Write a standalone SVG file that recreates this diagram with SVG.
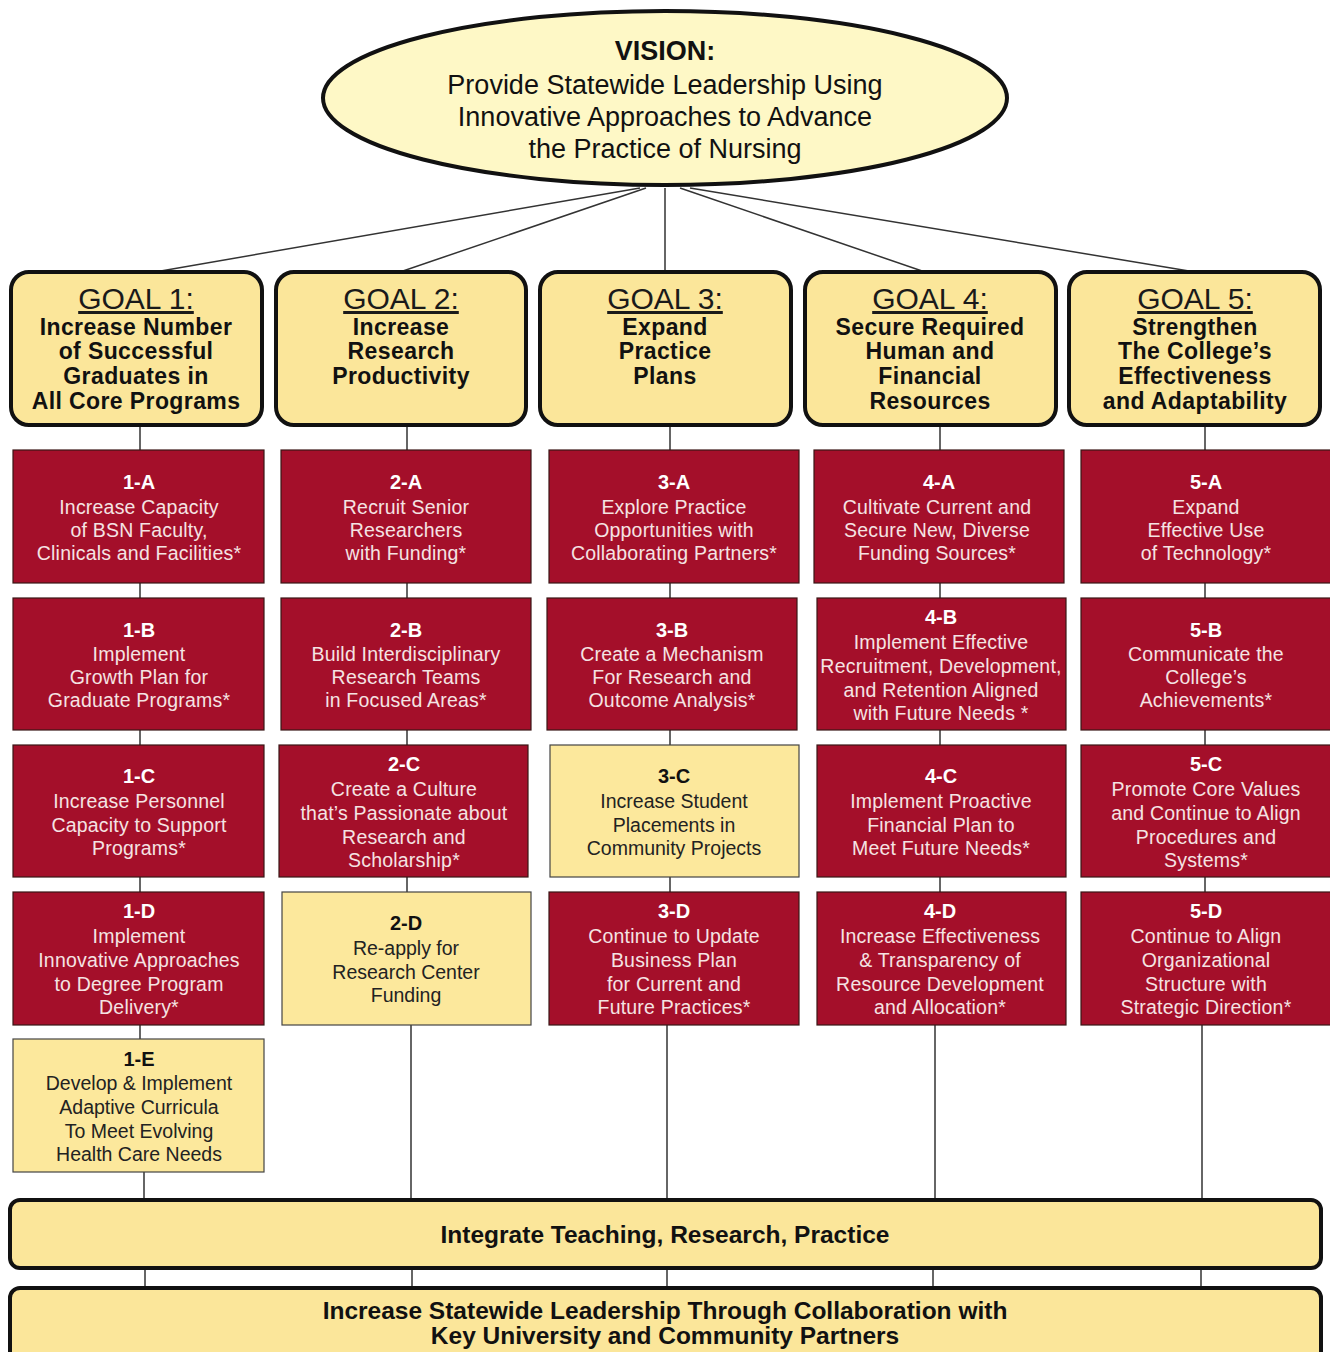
<svg xmlns="http://www.w3.org/2000/svg" width="1330" height="1352" viewBox="0 0 1330 1352">
<style>
text{font-family:"Liberation Sans",Arial,sans-serif;text-anchor:middle}
.goal{fill:#FBE69A;stroke:#111;stroke-width:4}
.red{fill:#A40F2A;stroke:#3a1616;stroke-width:1.2}
.yel{fill:#FCE89C;stroke:#444;stroke-width:1.2}
.gt{font-size:30px;fill:#1a1a1a;text-decoration:underline}
.gs{font-size:23px;font-weight:bold;fill:#111;letter-spacing:0.4px}
.rt{font-size:20px;font-weight:bold;fill:#fff}
.rb{font-size:19.5px;fill:#F5E3E3;letter-spacing:0.2px}
.yt{font-size:20px;font-weight:bold;fill:#111}
.yb{font-size:19.5px;fill:#222}
.bar{fill:#FBE69A;stroke:#111;stroke-width:4}
.bt{font-size:24.5px;font-weight:bold;fill:#111}
.vt{font-size:27px;fill:#111}
#connectors line{stroke:#333;stroke-width:1.5}
</style>
<g id="connectors">
<line x1="640" y1="188" x2="155" y2="272"/>
<line x1="646" y1="188" x2="400" y2="272"/>
<line x1="665" y1="188" x2="665" y2="272"/>
<line x1="680" y1="188" x2="925" y2="272"/>
<line x1="690" y1="188" x2="1195" y2="272"/>
<line x1="140" y1="425" x2="140" y2="1039"/>
<line x1="144" y1="1172" x2="144" y2="1200"/>
<line x1="407" y1="425" x2="407" y2="892"/>
<line x1="411" y1="1025" x2="411" y2="1200"/>
<line x1="670" y1="425" x2="670" y2="892"/>
<line x1="667" y1="1025" x2="667" y2="1200"/>
<line x1="940" y1="425" x2="940" y2="892"/>
<line x1="935" y1="1025" x2="935" y2="1200"/>
<line x1="1205" y1="425" x2="1205" y2="892"/>
<line x1="1202" y1="1025" x2="1202" y2="1200"/>
<line x1="145" y1="1268" x2="145" y2="1288"/>
<line x1="412" y1="1268" x2="412" y2="1288"/>
<line x1="667" y1="1268" x2="667" y2="1288"/>
<line x1="933" y1="1268" x2="933" y2="1288"/>
<line x1="1201" y1="1268" x2="1201" y2="1288"/>
</g>
<g id="vision">
<ellipse cx="665" cy="98" rx="342" ry="87" fill="#FEF8C6" stroke="#111" stroke-width="4"/>
<text x="665" y="60" class="vt" font-weight="bold">VISION:</text>
<text x="665" y="94" class="vt">Provide Statewide Leadership Using</text>
<text x="665" y="126" class="vt">Innovative Approaches to Advance</text>
<text x="665" y="158" class="vt">the Practice of Nursing</text>
</g>
<g id="goal1"><rect x="11" y="272" width="251" height="153" rx="18" class="goal"/>
<text x="136" y="309" class="gt">GOAL 1:</text>
<text x="136" y="335" class="gs">Increase Number</text><text x="136" y="359" class="gs">of Successful</text><text x="136" y="384" class="gs">Graduates in</text><text x="136" y="409" class="gs">All Core Programs</text></g>
<g id="goal2"><rect x="276" y="272" width="250" height="153" rx="18" class="goal"/>
<text x="401" y="309" class="gt">GOAL 2:</text>
<text x="401" y="335" class="gs">Increase</text><text x="401" y="359" class="gs">Research</text><text x="401" y="384" class="gs">Productivity</text></g>
<g id="goal3"><rect x="540" y="272" width="251" height="153" rx="18" class="goal"/>
<text x="665" y="309" class="gt">GOAL 3:</text>
<text x="665" y="335" class="gs">Expand</text><text x="665" y="359" class="gs">Practice</text><text x="665" y="384" class="gs">Plans</text></g>
<g id="goal4"><rect x="805" y="272" width="251" height="153" rx="18" class="goal"/>
<text x="930" y="309" class="gt">GOAL 4:</text>
<text x="930" y="335" class="gs">Secure Required</text><text x="930" y="359" class="gs">Human and</text><text x="930" y="384" class="gs">Financial</text><text x="930" y="409" class="gs">Resources</text></g>
<g id="goal5"><rect x="1069" y="272" width="251" height="153" rx="18" class="goal"/>
<text x="1195" y="309" class="gt">GOAL 5:</text>
<text x="1195" y="335" class="gs">Strengthen</text><text x="1195" y="359" class="gs">The College’s</text><text x="1195" y="384" class="gs">Effectiveness</text><text x="1195" y="409" class="gs">and Adaptability</text></g>

<g id="n1A"><rect x="13" y="450" width="251" height="133" class="red"/>
<text x="139" y="489" class="rt">1-A</text><text x="139" y="514" class="rb">Increase Capacity</text><text x="139" y="537" class="rb">of BSN Faculty,</text><text x="139" y="560" class="rb">Clinicals and Facilities*</text></g>
<g id="n1B"><rect x="13" y="598" width="251" height="132" class="red"/>
<text x="139" y="637" class="rt">1-B</text><text x="139" y="661" class="rb">Implement</text><text x="139" y="684" class="rb">Growth Plan for</text><text x="139" y="707" class="rb">Graduate Programs*</text></g>
<g id="n1C"><rect x="13" y="745" width="251" height="132" class="red"/>
<text x="139" y="783" class="rt">1-C</text><text x="139" y="808" class="rb">Increase Personnel</text><text x="139" y="832" class="rb">Capacity to Support</text><text x="139" y="855" class="rb">Programs*</text></g>
<g id="n1D"><rect x="13" y="892" width="251" height="133" class="red"/>
<text x="139" y="918" class="rt">1-D</text><text x="139" y="943" class="rb">Implement</text><text x="139" y="967" class="rb">Innovative Approaches</text><text x="139" y="991" class="rb">to Degree Program</text><text x="139" y="1014" class="rb">Delivery*</text></g>
<g id="n1E"><rect x="13" y="1039" width="251" height="133" class="yel"/>
<text x="139" y="1066" class="yt">1-E</text><text x="139" y="1090" class="yb">Develop &amp; Implement</text><text x="139" y="1114" class="yb">Adaptive Curricula</text><text x="139" y="1138" class="yb">To Meet Evolving</text><text x="139" y="1161" class="yb">Health Care Needs</text></g>

<g id="n2A"><rect x="281" y="450" width="250" height="133" class="red"/>
<text x="406" y="489" class="rt">2-A</text><text x="406" y="514" class="rb">Recruit Senior</text><text x="406" y="537" class="rb">Researchers</text><text x="406" y="560" class="rb">with Funding*</text></g>
<g id="n2B"><rect x="281" y="598" width="250" height="132" class="red"/>
<text x="406" y="637" class="rt">2-B</text><text x="406" y="661" class="rb">Build Interdisciplinary</text><text x="406" y="684" class="rb">Research Teams</text><text x="406" y="707" class="rb">in Focused Areas*</text></g>
<g id="n2C"><rect x="279" y="745" width="249" height="132" class="red"/>
<text x="404" y="771" class="rt">2-C</text><text x="404" y="796" class="rb">Create a Culture</text><text x="404" y="820" class="rb">that’s Passionate about</text><text x="404" y="844" class="rb">Research and</text><text x="404" y="867" class="rb">Scholarship*</text></g>
<g id="n2D"><rect x="282" y="892" width="249" height="133" class="yel"/>
<text x="406" y="930" class="yt">2-D</text><text x="406" y="955" class="yb">Re-apply for</text><text x="406" y="979" class="yb">Research Center</text><text x="406" y="1002" class="yb">Funding</text></g>

<g id="n3A"><rect x="549" y="450" width="250" height="133" class="red"/>
<text x="674" y="489" class="rt">3-A</text><text x="674" y="514" class="rb">Explore Practice</text><text x="674" y="537" class="rb">Opportunities with</text><text x="674" y="560" class="rb">Collaborating Partners*</text></g>
<g id="n3B"><rect x="547" y="598" width="250" height="132" class="red"/>
<text x="672" y="637" class="rt">3-B</text><text x="672" y="661" class="rb">Create a Mechanism</text><text x="672" y="684" class="rb">For Research and</text><text x="672" y="707" class="rb">Outcome Analysis*</text></g>
<g id="n3C"><rect x="550" y="745" width="249" height="132" class="yel"/>
<text x="674" y="783" class="yt">3-C</text><text x="674" y="808" class="yb">Increase Student</text><text x="674" y="832" class="yb">Placements in</text><text x="674" y="855" class="yb">Community Projects</text></g>
<g id="n3D"><rect x="549" y="892" width="250" height="133" class="red"/>
<text x="674" y="918" class="rt">3-D</text><text x="674" y="943" class="rb">Continue to Update</text><text x="674" y="967" class="rb">Business Plan</text><text x="674" y="991" class="rb">for Current and</text><text x="674" y="1014" class="rb">Future Practices*</text></g>

<g id="n4A"><rect x="814" y="450" width="250" height="133" class="red"/>
<text x="939" y="489" class="rt">4-A</text><text x="937" y="514" class="rb">Cultivate Current and</text><text x="937" y="537" class="rb">Secure New, Diverse</text><text x="937" y="560" class="rb">Funding Sources*</text></g>
<g id="n4B"><rect x="817" y="598" width="249" height="132" class="red"/>
<text x="941" y="624" class="rt">4-B</text><text x="941" y="649" class="rb">Implement Effective</text><text x="941" y="673" class="rb">Recruitment, Development,</text><text x="941" y="697" class="rb">and Retention Aligned</text><text x="941" y="720" class="rb">with Future Needs *</text></g>
<g id="n4C"><rect x="817" y="745" width="249" height="132" class="red"/>
<text x="941" y="783" class="rt">4-C</text><text x="941" y="808" class="rb">Implement Proactive</text><text x="941" y="832" class="rb">Financial Plan to</text><text x="941" y="855" class="rb">Meet Future Needs*</text></g>
<g id="n4D"><rect x="817" y="892" width="249" height="133" class="red"/>
<text x="940" y="918" class="rt">4-D</text><text x="940" y="943" class="rb">Increase Effectiveness</text><text x="940" y="967" class="rb">&amp; Transparency of</text><text x="940" y="991" class="rb">Resource Development</text><text x="940" y="1014" class="rb">and Allocation*</text></g>

<g id="n5A"><rect x="1081" y="450" width="252" height="133" class="red"/>
<text x="1206" y="489" class="rt">5-A</text><text x="1206" y="514" class="rb">Expand</text><text x="1206" y="537" class="rb">Effective Use</text><text x="1206" y="560" class="rb">of Technology*</text></g>
<g id="n5B"><rect x="1081" y="598" width="252" height="132" class="red"/>
<text x="1206" y="637" class="rt">5-B</text><text x="1206" y="661" class="rb">Communicate the</text><text x="1206" y="684" class="rb">College’s</text><text x="1206" y="707" class="rb">Achievements*</text></g>
<g id="n5C"><rect x="1081" y="745" width="252" height="132" class="red"/>
<text x="1206" y="771" class="rt">5-C</text><text x="1206" y="796" class="rb">Promote Core Values</text><text x="1206" y="820" class="rb">and Continue to Align</text><text x="1206" y="844" class="rb">Procedures and</text><text x="1206" y="867" class="rb">Systems*</text></g>
<g id="n5D"><rect x="1081" y="892" width="252" height="133" class="red"/>
<text x="1206" y="918" class="rt">5-D</text><text x="1206" y="943" class="rb">Continue to Align</text><text x="1206" y="967" class="rb">Organizational</text><text x="1206" y="991" class="rb">Structure with</text><text x="1206" y="1014" class="rb">Strategic Direction*</text></g>

<g id="integrate"><rect x="10" y="1200" width="1311" height="68" rx="10" class="bar"/>
<text x="665" y="1243" class="bt">Integrate Teaching, Research, Practice</text></g>
<g id="leadership"><rect x="10" y="1288" width="1311" height="90" rx="10" class="bar"/>
<text x="665" y="1319" class="bt">Increase Statewide Leadership Through Collaboration with</text>
<text x="665" y="1344" class="bt">Key University and Community Partners</text></g>
</svg>
